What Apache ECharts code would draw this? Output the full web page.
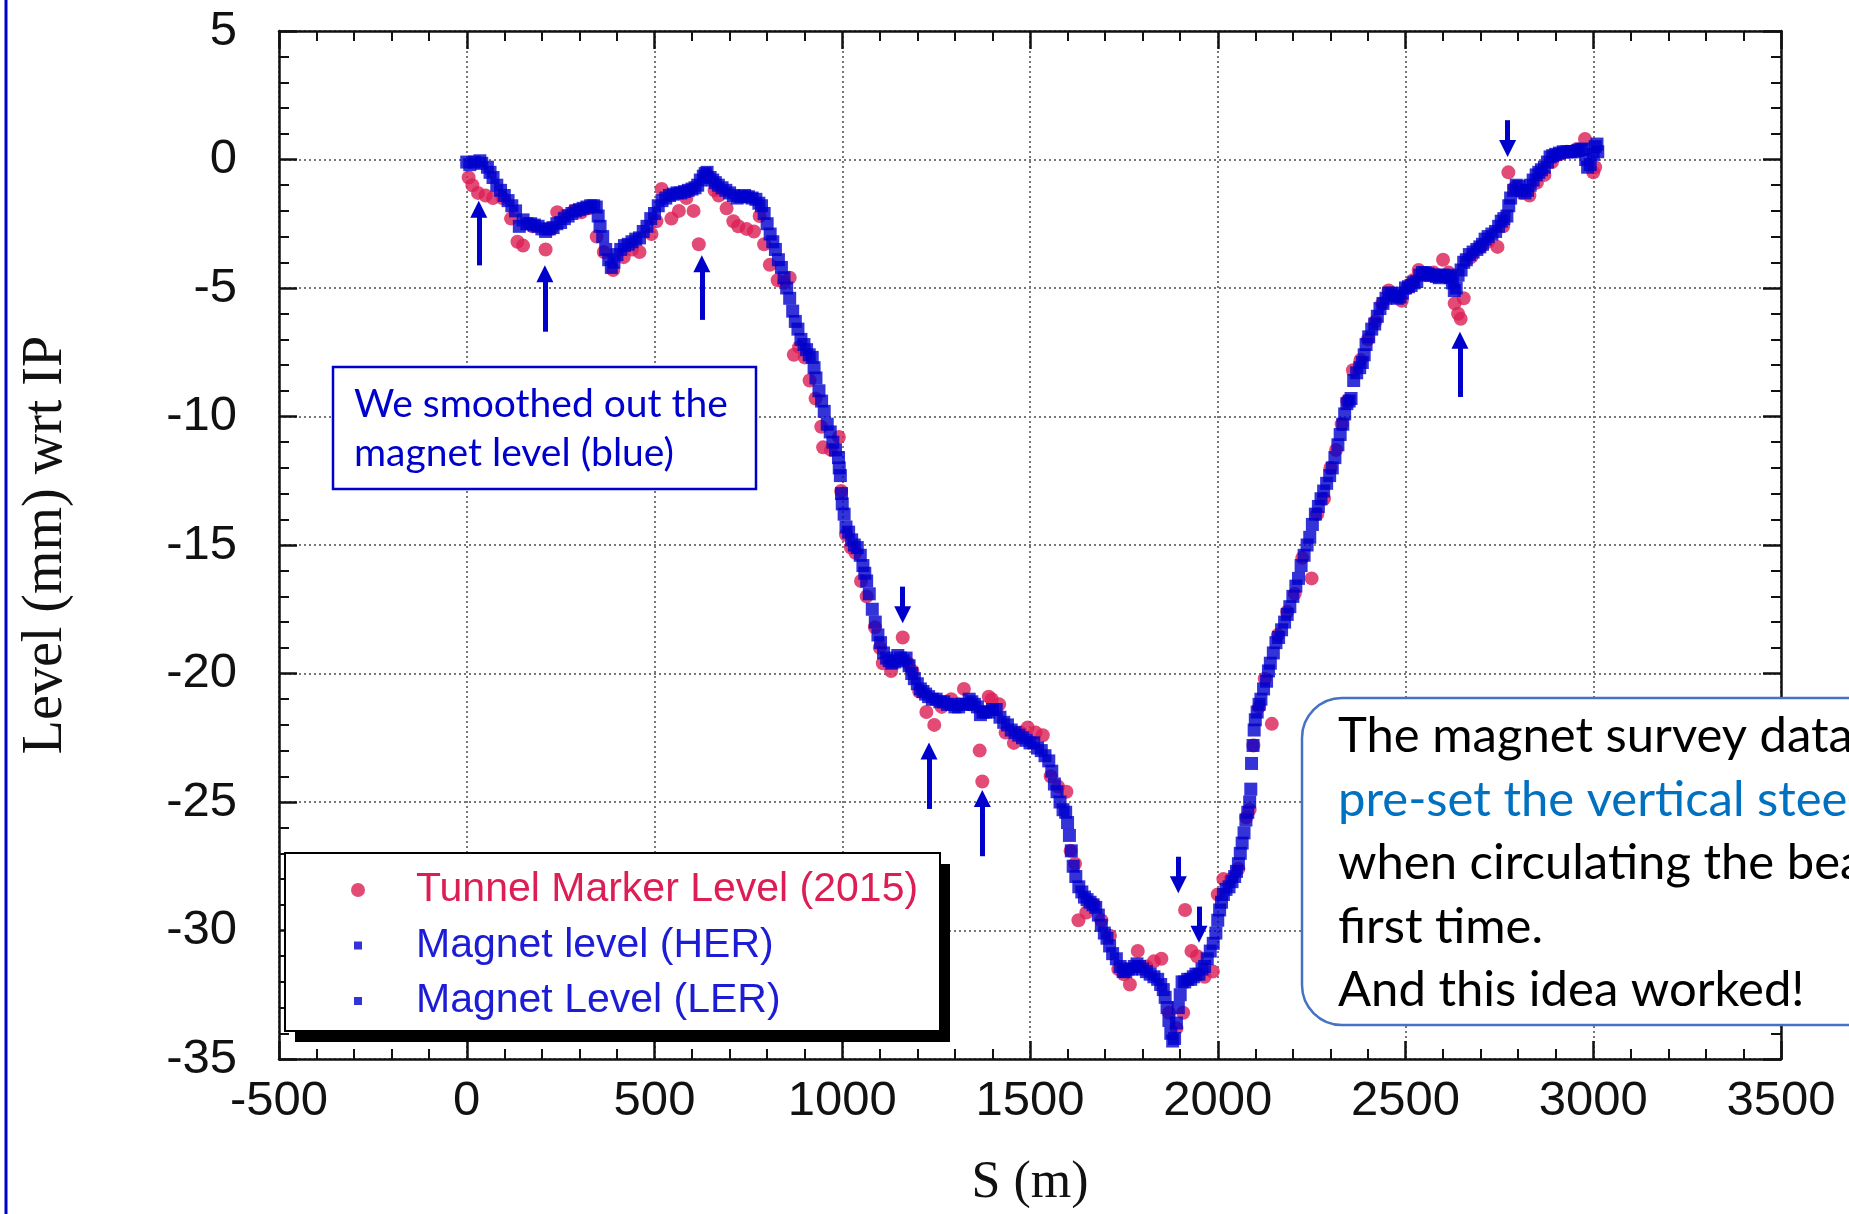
<!DOCTYPE html>
<html>
<head>
<meta charset="utf-8">
<title>Tunnel marker and magnet level</title>
<script src="https://cdn.jsdelivr.net/npm/echarts@6/dist/echarts.min.js"></script>
<style>
  html, body { margin: 0; padding: 0; background: #ffffff; }
  #chart { width: 1849px; height: 1214px; }
</style>
</head>
<body>
<div id="chart"></div>
<script>
// Axis ranges (S in metres, level in mm relative to the IP)
const sRange = { min: -500, max: 3500, step: 500 };
const levelRange = { min: -35, max: 5, step: 5 };

// Tunnel marker survey (2015): [S, level]
const tunnelMarkers = [
  [5,-0.7],[15,-1.0],[30,-1.3],[50,-1.4],[70,-1.5],[95,-1.5],[118,-2.3],[135,-3.2],[150,-3.35],[175,-2.6],
  [210,-3.5],[225,-2.7],[241,-2.05],[260,-2.2],[285,-2.0],[305,-2.05],[325,-1.9],[346,-3.0],[365,-3.6],[390,-4.3],
  [418,-3.8],[440,-3.5],[460,-3.6],[492,-2.9],[505,-2.4],[519,-1.15],[545,-2.3],[565,-2.0],[585,-1.5],[604,-2.0],
  [618,-3.3],[640,-0.6],[660,-1.2],[671,-1.4],[692,-1.9],[710,-2.4],[723,-2.6],[745,-2.7],[765,-2.8],[780,-2.2],
  [792,-3.3],[807,-4.1],[828,-4.7],[845,-4.8],[860,-4.6],[871,-7.6],[885,-7.3],[900,-7.7],[913,-8.6],[929,-9.3],
  [944,-10.4],[949,-11.2],[970,-11.3],[991,-10.8],[997,-12.9],[1010,-14.6],[1023,-15.1],[1035,-15.3],[1050,-16.4],[1065,-17.0],
  [1087,-18.2],[1100,-19.0],[1108,-19.6],[1130,-19.9],[1161,-18.6],[1175,-19.6],[1187,-19.9],[1205,-20.7],[1224,-21.5],[1245,-22.0],
  [1265,-21.3],[1290,-21.0],[1310,-21.2],[1324,-20.6],[1340,-21.2],[1366,-23.0],[1373,-24.2],[1390,-20.9],[1398,-21.0],[1418,-21.2],
  [1435,-22.3],[1457,-22.7],[1475,-22.3],[1494,-22.1],[1515,-22.3],[1534,-22.4],[1555,-24.0],[1575,-24.4],[1597,-24.6],[1608,-26.9],
  [1620,-27.4],[1629,-29.6],[1650,-29.3],[1670,-29.0],[1690,-29.6],[1713,-30.2],[1735,-31.5],[1750,-31.7],[1766,-32.1],[1787,-30.8],
  [1810,-31.4],[1830,-31.2],[1850,-31.1],[1870,-33.2],[1890,-33.8],[1908,-33.2],[1913,-29.2],[1930,-30.8],[1945,-31.0],[1965,-31.8],
  [1987,-31.6],[2000,-28.6],[2015,-28.0],[2035,-28.0],[2055,-27.6],[2076,-25.6],[2085,-25.3],[2095,-22.8],[2110,-21.3],[2125,-20.2],
  [2144,-21.96],[2160,-18.5],[2185,-17.6],[2205,-16.9],[2225,-15.5],[2250,-16.3],[2265,-13.8],[2283,-13.2],[2300,-12.0],[2315,-11.3],
  [2330,-10.3],[2345,-9.4],[2360,-8.2],[2380,-7.8],[2400,-7.0],[2420,-6.3],[2438,-5.6],[2455,-5.1],[2470,-5.3],[2490,-5.5],
  [2505,-5.0],[2520,-4.7],[2535,-4.3],[2555,-4.5],[2575,-4.4],[2600,-3.9],[2615,-4.4],[2631,-5.6],[2640,-6.0],[2647,-6.2],
  [2655,-5.4],[2675,-3.8],[2700,-3.4],[2720,-3.2],[2745,-3.4],[2760,-2.6],[2774,-0.5],[2790,-1.1],[2810,-1.3],[2830,-1.4],
  [2850,-0.9],[2870,-0.6],[2890,-0.1],[2910,0.2],[2930,0.3],[2955,0.4],[2978,0.8],[3000,-0.5],[3005,-0.3]
];

// Magnet level, high energy ring: [S, level]
const magnetHER = [
  [0,-0.1],[20,-0.1],[40,-0.15],[55,-0.3],[70,-0.7],[90,-1.2],[110,-1.6],[130,-2.0],[150,-2.35],[170,-2.5],
  [190,-2.6],[210,-2.8],[230,-2.65],[250,-2.45],[270,-2.2],[290,-2.0],[310,-1.9],[330,-1.8],[345,-1.85],[355,-2.6],
  [370,-3.5],[385,-4.2],[400,-3.7],[420,-3.35],[440,-3.2],[460,-3.05],[480,-2.6],[500,-2.1],[520,-1.6],[540,-1.4],
  [560,-1.3],[580,-1.25],[600,-1.15],[615,-1.0],[630,-0.65],[640,-0.5],[655,-0.8],[670,-1.0],[690,-1.2],[710,-1.4],
  [730,-1.45],[750,-1.45],[770,-1.55],[785,-1.8],[800,-2.5],[815,-3.2],[830,-3.9],[845,-4.6],[860,-5.4],[875,-6.3],
  [890,-7.0],[905,-7.4],[920,-7.7],[930,-8.5],[945,-9.4],[960,-10.3],[975,-11.0],[990,-11.6],[995,-12.3],[1000,-13.4],
  [1010,-14.3],[1025,-14.8],[1040,-15.1],[1055,-15.8],[1065,-16.4],[1080,-17.5],[1095,-18.5],[1110,-19.2],[1125,-19.5],[1140,-19.55],
  [1155,-19.4],[1170,-19.4],[1185,-20.0],[1200,-20.4],[1215,-20.7],[1230,-20.9],[1250,-21.0],[1270,-21.1],[1290,-21.2],[1310,-21.3],
  [1330,-21.2],[1345,-21.1],[1360,-21.3],[1375,-21.5],[1390,-21.5],[1410,-21.4],[1430,-21.9],[1450,-22.2],[1470,-22.4],[1490,-22.6],
  [1510,-22.7],[1530,-23.0],[1550,-23.4],[1565,-24.3],[1580,-25.0],[1595,-25.4],[1605,-26.3],[1615,-27.5],[1630,-28.3],[1645,-28.7],
  [1660,-28.9],[1675,-29.1],[1690,-29.8],[1705,-30.3],[1720,-30.9],[1740,-31.4],[1755,-31.6],[1770,-31.5],[1785,-31.3],[1800,-31.5],
  [1820,-31.7],[1840,-31.9],[1855,-32.3],[1865,-33.0],[1875,-34.0],[1885,-34.2],[1895,-33.0],[1905,-32.0],[1920,-31.9],[1935,-31.8],
  [1950,-31.7],[1965,-31.4],[1980,-30.8],[1995,-30.1],[2005,-29.2],[2015,-28.6],[2030,-28.3],[2045,-27.9],[2055,-27.4],[2065,-26.6],
  [2075,-25.7],[2085,-25.0],[2090,-23.5],[2097,-22.2],[2105,-21.5],[2115,-21.0],[2130,-20.3],[2140,-19.6],[2155,-18.8],[2170,-18.3],
  [2185,-17.7],[2200,-17.0],[2215,-16.3],[2230,-15.4],[2245,-14.7],[2260,-13.8],[2275,-13.2],[2290,-12.6],[2305,-12.0],[2320,-11.1],
  [2333,-10.3],[2344,-9.5],[2355,-9.3],[2370,-8.3],[2385,-7.9],[2395,-7.2],[2410,-6.6],[2425,-6.1],[2440,-5.6],[2455,-5.2],
  [2470,-5.3],[2485,-5.35],[2500,-5.0],[2515,-4.9],[2530,-4.75],[2545,-4.4],[2560,-4.45],[2575,-4.5],[2590,-4.6],[2605,-4.5],
  [2620,-4.6],[2630,-5.1],[2640,-4.5],[2655,-4.0],[2670,-3.7],[2690,-3.5],[2705,-3.3],[2720,-3.0],[2740,-2.8],[2755,-2.4],
  [2770,-2.2],[2780,-1.5],[2795,-1.0],[2810,-1.2],[2825,-1.2],[2840,-0.8],[2855,-0.5],[2870,-0.3],[2885,0.1],[2900,0.2],
  [2920,0.3],[2940,0.3],[2960,0.35],[2975,0.4],[2985,-0.3],[3000,0.2],[3010,0.6]
];

// Magnet level, low energy ring: [S, level]
const magnetLER = [
  [8,-0.2],[35,-0.05],[62,-0.5],[80,-1.0],[100,-1.4],[120,-1.8],[140,-2.6],[160,-2.5],[180,-2.55],[200,-2.7],
  [220,-2.7],[240,-2.5],[260,-2.3],[280,-2.1],[300,-1.95],[320,-1.85],[338,-1.8],[350,-2.2],[362,-3.0],[378,-3.9],
  [392,-4.0],[410,-3.5],[430,-3.3],[450,-3.1],[470,-2.8],[490,-2.3],[510,-1.8],[530,-1.5],[550,-1.35],[570,-1.3],
  [590,-1.2],[608,-1.1],[622,-0.8],[635,-0.55],[648,-0.7],[662,-0.9],[680,-1.1],[700,-1.3],[720,-1.5],[740,-1.4],
  [760,-1.5],[778,-1.7],[792,-2.1],[808,-2.9],[822,-3.5],[838,-4.2],[852,-5.0],[868,-5.9],[882,-6.6],[898,-7.2],
  [912,-7.6],[925,-8.1],[938,-9.0],[952,-9.8],[968,-10.6],[982,-11.3],[992,-12.0],[998,-13.0],[1005,-13.8],[1017,-14.5],
  [1032,-15.0],[1048,-15.4],[1060,-16.1],[1072,-16.9],[1088,-18.0],[1102,-18.8],[1118,-19.4],[1132,-19.6],[1148,-19.3],[1162,-19.5],
  [1178,-19.7],[1192,-20.2],[1208,-20.6],[1222,-20.8],[1240,-21.0],[1260,-21.1],[1280,-21.2],[1300,-21.3],[1320,-21.2],[1338,-21.0],
  [1352,-21.2],[1368,-21.6],[1382,-21.5],[1400,-21.4],[1420,-21.7],[1440,-22.0],[1460,-22.3],[1480,-22.5],[1500,-22.7],[1520,-22.9],
  [1540,-23.2],[1558,-23.8],[1572,-24.6],[1588,-25.3],[1600,-25.8],[1610,-26.9],[1622,-27.9],[1638,-28.5],[1652,-28.8],[1668,-29.0],
  [1682,-29.4],[1698,-30.1],[1712,-30.6],[1730,-31.1],[1748,-31.6],[1762,-31.5],[1778,-31.4],[1792,-31.4],[1810,-31.6],[1830,-31.8],
  [1848,-32.1],[1860,-32.6],[1870,-33.5],[1880,-34.3],[1890,-33.6],[1900,-32.5],[1912,-32.0],[1928,-31.9],[1942,-31.7],[1958,-31.5],
  [1972,-31.1],[1988,-30.5],[2000,-29.6],[2010,-28.9],[2022,-28.4],[2038,-28.1],[2050,-27.7],[2060,-27.0],[2070,-26.2],[2080,-25.4],
  [2088,-24.5],[2094,-22.8],[2100,-21.8],[2110,-21.2],[2122,-20.6],[2135,-19.9],[2148,-19.2],[2162,-18.6],[2178,-18.0],[2192,-17.4],
  [2208,-16.6],[2222,-15.8],[2238,-15.0],[2252,-14.2],[2268,-13.5],[2282,-12.9],[2298,-12.3],[2312,-11.6],[2326,-10.7],[2338,-9.9],
  [2350,-9.4],[2362,-8.6],[2378,-8.1],[2390,-7.6],[2402,-6.9],[2418,-6.4],[2432,-5.8],[2448,-5.4],[2462,-5.2],[2478,-5.4],
  [2492,-5.2],[2508,-4.95],[2522,-4.8],[2538,-4.5],[2552,-4.4],[2568,-4.5],[2582,-4.55],[2598,-4.5],[2612,-4.55],[2625,-4.8],
  [2635,-5.0],[2648,-4.3],[2662,-3.9],[2680,-3.6],[2698,-3.4],[2712,-3.1],[2730,-2.9],[2748,-2.6],[2762,-2.3],[2775,-1.8],
  [2788,-1.2],[2802,-1.05],[2818,-1.3],[2832,-1.0],[2848,-0.6],[2862,-0.4],[2878,-0.1],[2892,0.15],[2910,0.25],[2930,0.3],
  [2950,0.3],[2968,0.4],[2980,0.0],[2992,-0.2],[3005,0.5],[3012,0.3]
];

// Arrows pointing at marker/magnet discrepancies: S, tail level, head level
const arrowS    = [32, 208, 626, 1161, 1231, 1373, 1895, 1950, 2645, 2772];
const arrowFrom = [-4.12, -6.70, -6.24, -16.62, -25.27, -27.11, -27.13, -29.07, -9.24, 1.53];
const arrowTo   = [-1.94, -4.45, -4.06, -17.71, -23.02, -24.86, -28.22, -30.15, -7.03, 0.43];

const seriesNames = ['Tunnel Marker Level (2015)', 'Magnet level (HER)', 'Magnet Level (LER)'];

const RED = '#dc1e55';
const BLUE = '#0000cd';
const INK = '#111111';

const arrowLines = arrowS.map((s, i) => [
  { coord: [s, arrowFrom[i]] },
  { coord: [s, arrowTo[i]] }
]);

const tickFont = { fontFamily: 'Liberation Sans, Arial, sans-serif', fontSize: 49, color: INK };
const plainNumber = (v) => String(v);

function baseAxis(range) {
  return {
    type: 'value',
    min: range.min,
    max: range.max,
    interval: range.step,
    axisLine: { show: true, onZero: false, lineStyle: { color: INK, width: 2.5 } },
    axisTick: { show: true, inside: true, length: 18, lineStyle: { color: INK, width: 2.5 } },
    minorTick: { show: true, splitNumber: 5, length: 10, lineStyle: { color: INK, width: 2 } },
    splitLine: { show: false },
    minorSplitLine: { show: false }
  };
}

const chart = echarts.init(document.getElementById('chart'), null, { renderer: 'canvas' });

chart.setOption({
  animation: false,
  backgroundColor: '#ffffff',
  grid: { left: 279, right: 68, top: 31, bottom: 149, containLabel: false },
  xAxis: [
    Object.assign(baseAxis(sRange), {
      position: 'bottom',
      name: 'S (m)',
      nameLocation: 'middle',
      nameGap: 98,
      nameTextStyle: { fontFamily: 'Liberation Serif, Times New Roman, serif', fontSize: 52, color: INK },
      axisLabel: Object.assign({ margin: 18, formatter: plainNumber, showMinLabel: true, showMaxLabel: true }, tickFont),
      splitLine: { show: true, lineStyle: { color: '#777777', width: 2, type: [2, 3] } }
    }),
    Object.assign(baseAxis(sRange), { position: 'top', axisLabel: { show: false } })
  ],
  yAxis: [
    Object.assign(baseAxis(levelRange), {
      position: 'left',
      name: 'Level (mm) wrt IP',
      nameLocation: 'middle',
      nameRotate: 90,
      nameGap: 205,
      nameTextStyle: { fontFamily: 'Liberation Serif, Times New Roman, serif', fontSize: 56, color: INK },
      axisLabel: Object.assign({ margin: 42, padding: [0, 0, 20, 0], formatter: plainNumber, showMinLabel: true, showMaxLabel: true }, tickFont),
      splitLine: { show: true, lineStyle: { color: '#777777', width: 2, type: [2, 3] } }
    }),
    Object.assign(baseAxis(levelRange), { position: 'right', axisLabel: { show: false } })
  ],
  legend: {
    orient: 'vertical',
    left: 285,
    top: 853,
    z: 6,
    padding: [15, 30, 11, 66],
    itemWidth: 106,
    itemHeight: 14,
    itemGap: 11.5,
    symbolKeepAspect: true,
    selectedMode: false,
    backgroundColor: 'transparent',
    borderWidth: 0,
    textStyle: { fontFamily: 'Liberation Sans, Arial, sans-serif', fontSize: 41, lineHeight: 44 },
    data: [
      { name: seriesNames[0], icon: 'circle', textStyle: { color: RED } },
      { name: seriesNames[1], icon: 'path://M0,0L0,0M14,14L14,14M3,3H11V11H3Z', textStyle: { color: '#1c1cd6' } },
      { name: seriesNames[2], icon: 'path://M0,0L0,0M14,14L14,14M3,3H11V11H3Z', textStyle: { color: '#1c1cd6' } }
    ]
  },
  series: [
    {
      name: seriesNames[0],
      type: 'scatter',
      data: tunnelMarkers,
      symbol: 'circle',
      symbolSize: 14,
      itemStyle: { color: RED },
      silent: true,
      z: 2
    },
    {
      name: seriesNames[1],
      type: 'scatter',
      data: magnetHER,
      symbol: 'rect',
      symbolSize: 13,
      itemStyle: { color: BLUE },
      silent: true,
      z: 2
    },
    {
      name: seriesNames[2],
      type: 'scatter',
      data: magnetLER,
      symbol: 'rect',
      symbolSize: 13,
      itemStyle: { color: BLUE },
      silent: true,
      z: 2,
      markLine: {
        silent: true,
        animation: false,
        symbol: ['none', 'triangle'],
        symbolSize: 17,
        label: { show: false },
        lineStyle: { color: BLUE, width: 5, type: 'solid' },
        emphasis: { disabled: true },
        data: arrowLines
      }
    }
  ],
  graphic: [
    // slide edge on the left
    {
      type: 'line',
      z: 50,
      shape: { x1: 6, y1: 0, x2: 6, y2: 1214 },
      style: { stroke: '#0000cc', lineWidth: 3 }
    },
    // legend frame with its solid drop shadow
    {
      type: 'rect',
      z: 4,
      shape: { x: 295, y: 864, width: 655, height: 178 },
      style: { fill: '#000000' }
    },
    {
      type: 'rect',
      z: 5,
      shape: { x: 285, y: 853, width: 655, height: 178 },
      style: { fill: '#ffffff', stroke: '#000000', lineWidth: 2 }
    },
    // note about smoothing
    {
      type: 'rect',
      z: 50,
      shape: { x: 333, y: 367, width: 423, height: 122 },
      style: { fill: '#ffffff', stroke: '#0000cc', lineWidth: 2.5 }
    },
    {
      type: 'text',
      z: 51,
      x: 354,
      y: 380,
      style: {
        text: 'We smoothed out the\nmagnet level (blue)',
        fill: '#0000cc',
        font: '39px Lato, "Noto Sans", sans-serif',
        lineHeight: 49,
        textVerticalAlign: 'top'
      }
    },
    // conclusion call-out
    {
      type: 'rect',
      z: 50,
      shape: { x: 1302, y: 698, width: 640, height: 327, r: 40 },
      style: { fill: '#ffffff', stroke: '#4472c4', lineWidth: 2.5 }
    },
    {
      type: 'text',
      z: 51,
      x: 1338,
      y: 705,
      style: {
        rich: {
          k: { fill: '#000000', font: '49px Lato, "Noto Sans", sans-serif', lineHeight: 63.4 },
          b: { fill: '#0070c0', font: '49px Lato, "Noto Sans", sans-serif', lineHeight: 63.4 }
        },
        text: '{k|The magnet survey data was used to}\n{b|pre-set the vertical steering magnets}\n{k|when circulating the beam for the}\n{k|first time.}\n{k|And this idea worked!}',
        textVerticalAlign: 'top'
      }
    }
  ]
});
</script>
</body>
</html>
